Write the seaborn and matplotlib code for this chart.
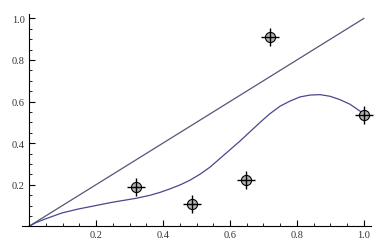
import matplotlib
matplotlib.use("Agg")
import matplotlib.pyplot as plt
import seaborn as sns
import numpy as np
import pandas as pd
from matplotlib.ticker import MultipleLocator, FixedLocator, FuncFormatter

# data points
pts_x = [0.319, 0.487, 0.649, 0.718, 1.0]
pts_y = [0.187, 0.107, 0.223, 0.909, 0.535]

# diagonal line
diag_x = [0.0, 1.0]
diag_y = [0.0, 1.0]

# fitted curve
curve_x = [0.0, 0.02, 0.048, 0.098, 0.147, 0.197, 0.247, 0.321, 0.361, 0.391, 0.421,
           0.451, 0.481, 0.510, 0.540, 0.570, 0.600, 0.630, 0.660, 0.690, 0.719,
           0.749, 0.779, 0.809, 0.839, 0.869, 0.899, 0.928, 0.958, 0.988, 1.0]
curve_y = [0.0, 0.017, 0.035, 0.064, 0.083, 0.099, 0.115, 0.135, 0.149, 0.163, 0.180,
           0.199, 0.222, 0.250, 0.284, 0.326, 0.368, 0.410, 0.455, 0.500, 0.541,
           0.577, 0.602, 0.622, 0.631, 0.633, 0.625, 0.609, 0.587, 0.554, 0.535]

tick_vals = [0.2, 0.4, 0.6, 0.8, 1.0]

sns.set_style("white")
plt.rcParams['font.family'] = ['Liberation Serif', 'DejaVu Serif']

fig = plt.figure(figsize=(3.84, 2.53), dpi=100)
W, H = 384, 253
ax = fig.add_axes([22 / W, (H - 227.3) / H, (371 - 22) / W, (227.3 - 15) / H])

sns.lineplot(x=diag_x, y=diag_y, ax=ax, color='#55557a', lw=0.9, sort=False)
sns.lineplot(x=curve_x, y=curve_y, ax=ax, color='#48488c', lw=0.9, sort=False)

df = pd.DataFrame({'x': pts_x, 'y': pts_y})
sns.scatterplot(data=df, x='x', y='y', ax=ax, marker='o', s=7.3 ** 2,
                color='#b4b4b4', edgecolor='black', linewidth=0.8, zorder=5, clip_on=False)
sns.scatterplot(data=df, x='x', y='y', ax=ax, marker='+', s=12.5 ** 2,
                color='black', linewidth=1.0, zorder=6, clip_on=False)

ax.set_xlim(-0.0209, 1.0209)
ax.set_ylim(0, 1.0207)
ax.spines['left'].set_position(('data', 0))
ax.spines['top'].set_visible(False)
ax.spines['right'].set_visible(False)
for s in ['left', 'bottom']:
    ax.spines[s].set_color('black')
    ax.spines[s].set_linewidth(0.8)

ax.xaxis.set_major_locator(FixedLocator(tick_vals))
ax.yaxis.set_major_locator(FixedLocator(tick_vals))
ax.xaxis.set_minor_locator(MultipleLocator(0.05))
ax.yaxis.set_minor_locator(MultipleLocator(0.05))
fmt = FuncFormatter(lambda v, p: f"{v:.1f}")
ax.xaxis.set_major_formatter(fmt)
ax.yaxis.set_major_formatter(fmt)
ax.tick_params(which='major', direction='in', length=4.5, width=0.8, color='black',
               labelsize=7.5, labelcolor='#333333', pad=3)
ax.tick_params(which='minor', direction='in', length=2.5, width=0.6, color='black')
ax.tick_params(axis='x', which='both', bottom=True, top=False)
ax.tick_params(axis='y', which='both', left=True, right=False)
ax.set_xlabel('')
ax.set_ylabel('')
ax.grid(False)

fig.savefig('out.png', dpi=100, facecolor='white')
